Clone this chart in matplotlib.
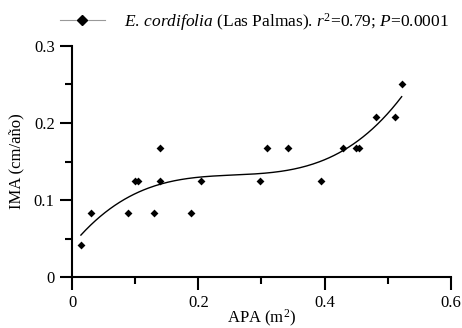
import numpy as np
import matplotlib
matplotlib.use("Agg")
import matplotlib.pyplot as plt
from matplotlib.lines import Line2D
from matplotlib.ticker import MultipleLocator

plt.rcParams['font.family'] = ['Liberation Serif', 'DejaVu Serif']
plt.rcParams['mathtext.fontset'] = 'custom'
plt.rcParams['mathtext.rm'] = 'Liberation Serif'
plt.rcParams['mathtext.it'] = 'Liberation Serif:italic'

# Data (APA m^2, IMA cm/año)
apa = [0.014, 0.030, 0.089, 0.100, 0.105, 0.130, 0.139, 0.139, 0.189, 0.204,
       0.298, 0.308, 0.342, 0.395, 0.429, 0.450, 0.454, 0.481, 0.511, 0.522]
ima = [0.042, 0.083, 0.083, 0.125, 0.125, 0.083, 0.167, 0.125, 0.083, 0.125,
       0.125, 0.167, 0.167, 0.125, 0.167, 0.167, 0.167, 0.208, 0.208, 0.250]

legend_label = r'$\it{E.\,cordifolia}$ (Las Palmas). $\it{r}^2$=0.79; $\it{P}$=0.0001'

fig = plt.figure(figsize=(4.62, 3.28), dpi=100)
ax = fig.add_axes([0.156, 0.155, 0.820, 0.705])

ax.scatter(apa, ima, marker='D', s=16, color='black', zorder=3, linewidths=0)

coef = np.polyfit(apa, ima, 3)
xs = np.linspace(min(apa), max(apa), 200)
ax.plot(xs, np.polyval(coef, xs), color='black', lw=1.0)

ax.set_xlim(0, 0.6)
ax.set_ylim(0, 0.3)
ax.xaxis.set_major_locator(MultipleLocator(0.2))
ax.xaxis.set_minor_locator(MultipleLocator(0.1))
ax.yaxis.set_major_locator(MultipleLocator(0.1))
ax.yaxis.set_minor_locator(MultipleLocator(0.05))
ax.set_xticklabels([f'{v:g}' for v in ax.get_xticks()])
ax.set_yticklabels([f'{v:g}' for v in ax.get_yticks()])
for s in ['top', 'right']:
    ax.spines[s].set_visible(False)
for s in ['left', 'bottom']:
    ax.spines[s].set_linewidth(1.5)
ax.tick_params(which='major', direction='out', length=9, width=1.5, labelsize=12)
ax.tick_params(which='minor', direction='out', length=5, width=1.5)
ax.set_xlabel('APA (m$^2$)', fontsize=12, labelpad=-2)
ax.set_ylabel('IMA (cm/año)', fontsize=12, labelpad=7)

handle = Line2D([], [], color='#999999', lw=0.8, marker='D', markersize=5,
                markerfacecolor='black', markeredgecolor='black')
fig.legend([handle], [legend_label], loc='upper left', bbox_to_anchor=(0.095, 1.015),
           frameon=False, fontsize=12.5, handlelength=2.6, handletextpad=1.1)

fig.savefig('out.png', dpi=100)
